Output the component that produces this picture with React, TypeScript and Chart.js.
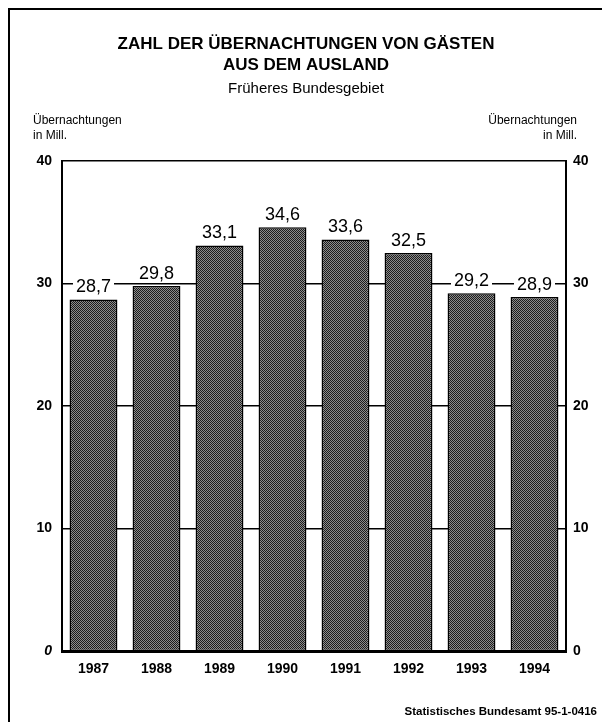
import React, { useEffect, useRef } from "react";
import { Chart, registerables } from "chart.js";

Chart.register(...registerables);

const years = ["1987", "1988", "1989", "1990", "1991", "1992", "1993", "1994"];
const overnightStays = [28.7, 29.8, 33.1, 34.6, 33.6, 32.5, 29.2, 28.9];
const yTicks = [0, 10, 20, 30, 40];
const titleLines = ["ZAHL DER ÜBERNACHTUNGEN VON GÄSTEN", "AUS DEM AUSLAND"];
const subtitle = "Früheres Bundesgebiet";
const axisTitleLines = ["Übernachtungen", "in Mill."];
const footer = "Statistisches Bundesamt 95-1-0416";

const FONT = "'Liberation Sans', Arial, Helvetica, sans-serif";

function makePattern(): CanvasPattern | string {
  const c = document.createElement("canvas");
  c.width = 4;
  c.height = 4;
  const g = c.getContext("2d");
  if (!g) return "#555";
  for (let y = 0; y < 4; y++) {
    for (let x = 0; x < 4; x++) {
      g.fillStyle = (x + y) % 2 === 0 ? "#1c1c1c" : "#8c8c8c";
      g.fillRect(x, y, 1, 1);
    }
  }
  const p = g.createPattern(c, "repeat");
  return p || "#555";
}

export default function App() {
  const ref = useRef<HTMLCanvasElement | null>(null);

  useEffect(() => {
    if (!ref.current) return;

    const valueLabels = {
      id: "valueLabels",
      afterDatasetsDraw(chart: any) {
        const ctx = chart.ctx;
        const meta = chart.getDatasetMeta(0);
        ctx.save();
        ctx.font = `18px ${FONT}`;
        ctx.textAlign = "center";
        ctx.textBaseline = "middle";
        meta.data.forEach((el: any, i: number) => {
          const txt = overnightStays[i].toFixed(1).replace(".", ",");
          const w = ctx.measureText(txt).width;
          const y = el.y - 13;
          ctx.fillStyle = "#fff";
          ctx.fillRect(el.x - w / 2 - 3, y - 10, w + 6, 20);
          ctx.fillStyle = "#000";
          ctx.fillText(txt, el.x, y + 1);
        });
        ctx.restore();
      },
    };

    const texts = {
      id: "texts",
      afterDraw(chart: any) {
        const ctx = chart.ctx;
        ctx.save();
        ctx.fillStyle = "#000";
        ctx.textBaseline = "middle";
        ctx.textAlign = "center";
        ctx.font = `bold 17px ${FONT}`;
        ctx.fillText(titleLines[0], 296, 34);
        ctx.fillText(titleLines[1], 296, 55);
        ctx.font = `15px ${FONT}`;
        ctx.fillText(subtitle, 296, 79);
        ctx.font = `12px ${FONT}`;
        ctx.textAlign = "left";
        ctx.fillText(axisTitleLines[0], 23, 111);
        ctx.fillText(axisTitleLines[1], 23, 126);
        ctx.textAlign = "right";
        ctx.fillText(axisTitleLines[0], 567, 111);
        ctx.fillText(axisTitleLines[1], 567, 126);
        ctx.font = `bold 11.5px ${FONT}`;
        ctx.fillText(footer, 587, 702);
        ctx.restore();
      },
    };

    const tickFont = (c: any) => ({
      family: FONT,
      size: 14,
      weight: "bold" as const,
      style: c && c.tick && c.tick.value === 0 ? ("italic" as const) : ("normal" as const),
    });

    const chart = new Chart(ref.current, {
      type: "bar",
      data: {
        labels: years,
        datasets: [
          {
            data: overnightStays,
            backgroundColor: makePattern() as any,
            borderColor: "#000",
            borderWidth: 1.5,
            borderSkipped: false,
            categoryPercentage: 1,
            barPercentage: 0.76,
          },
        ],
      },
      options: {
        responsive: false,
        animation: false,
        layout: { padding: { top: 151, left: 0, right: 0, bottom: 0 } },
        plugins: {
          legend: { display: false },
          title: { display: false },
          tooltip: { enabled: false },
        },
        scales: {
          x: {
            grid: { display: false, drawTicks: false },
            border: { display: true, color: "#000", width: 3 },
            ticks: {
              color: "#000",
              padding: 10,
              font: { family: FONT, size: 14, weight: "bold" },
            },
            afterFit: (s: any) => {
              s.height = 71;
            },
          },
          y: {
            position: "left",
            min: 0,
            max: 40,
            afterBuildTicks: (s: any) => {
              s.ticks = yTicks.map((v) => ({ value: v }));
            },
            grid: {
              color: "#000",
              lineWidth: (c: any) => (c.tick && c.tick.value === 0 ? 0 : 1.6),
              drawTicks: false,
            },
            border: { display: true, color: "#000", width: 2 },
            ticks: {
              color: "#000",
              padding: 10,
              font: tickFont as any,
            },
            afterFit: (s: any) => {
              s.width = 52;
            },
          },
          y2: {
            position: "right",
            min: 0,
            max: 40,
            afterBuildTicks: (s: any) => {
              s.ticks = yTicks.map((v) => ({ value: v }));
            },
            grid: { display: false, drawTicks: false },
            border: { display: true, color: "#000", width: 2 },
            ticks: {
              color: "#000",
              padding: 7,
              font: { family: FONT, size: 14, weight: "bold" },
            },
            afterFit: (s: any) => {
              s.width = 44;
            },
          },
        },
      },
      plugins: [valueLabels, texts],
    });

    return () => chart.destroy();
  }, []);

  return (
    <div
      style={{
        position: "relative",
        width: 602,
        height: 714,
        borderLeft: "2px solid #000",
        borderTop: "2px solid #000",
        boxSizing: "border-box",
        background: "#fff",
      }}
    >
      <canvas ref={ref} width={600} height={712} style={{ display: "block" }} />
    </div>
  );
}
